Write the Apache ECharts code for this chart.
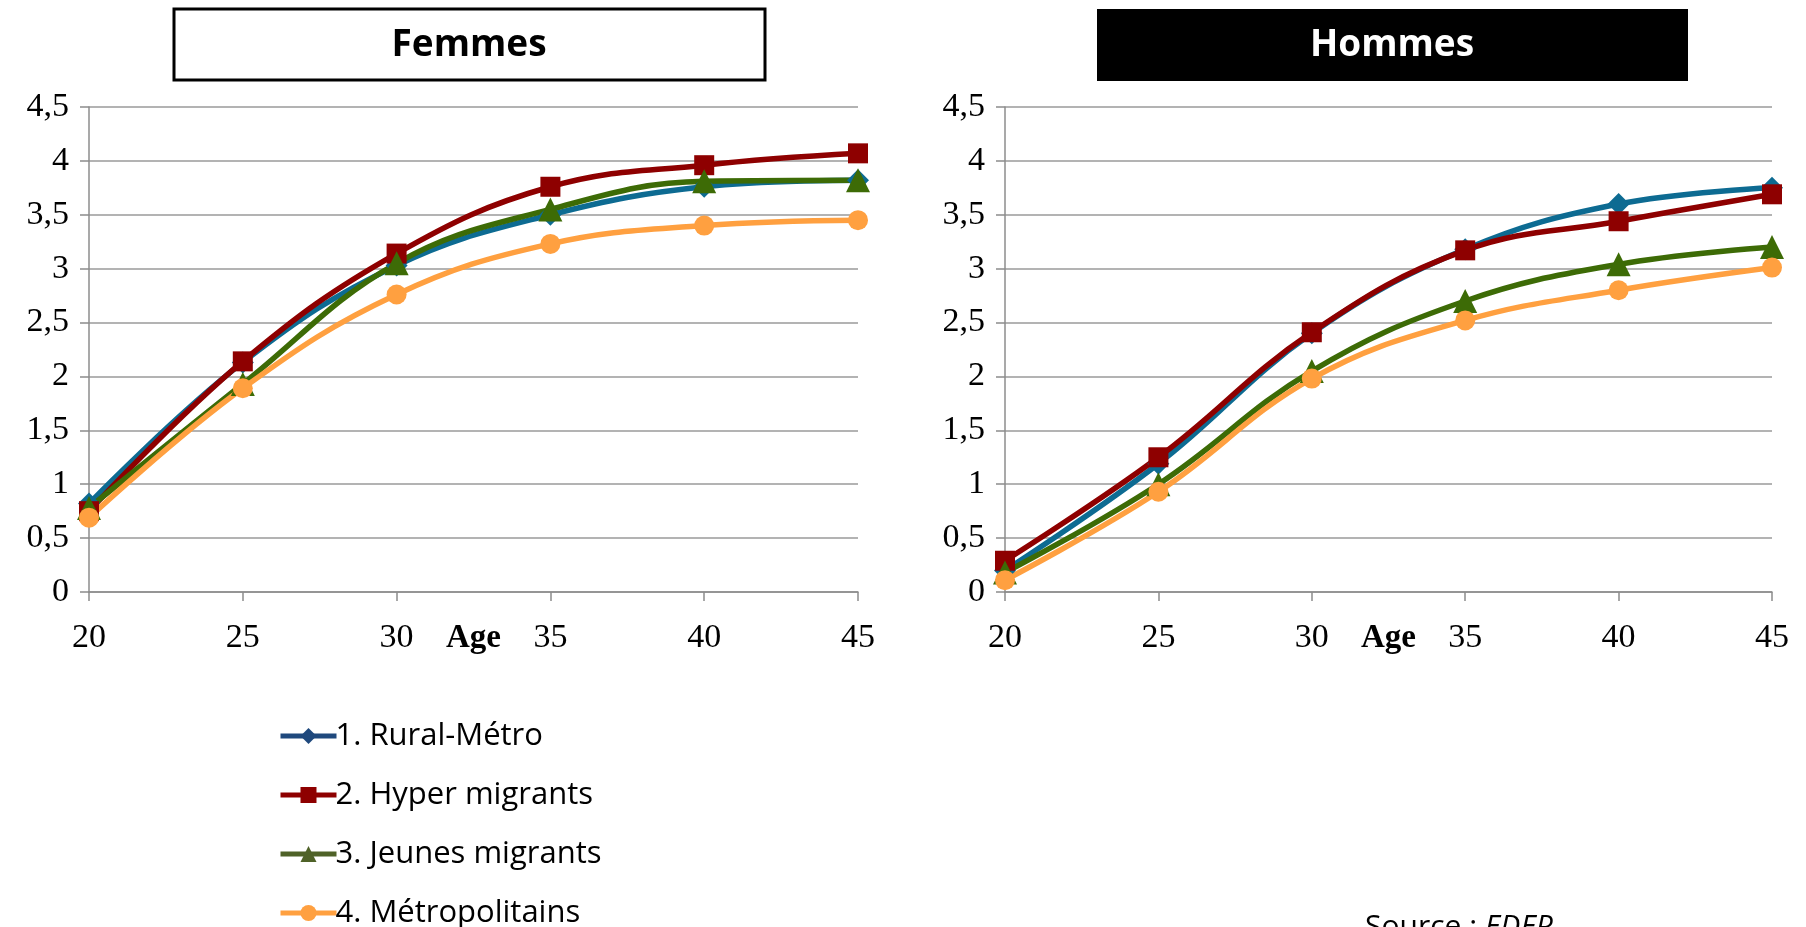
<!DOCTYPE html>
<html>
<head>
<meta charset="utf-8">
<script src="https://cdn.jsdelivr.net/npm/echarts@6/dist/echarts.min.js"></script>
<style>
html,body{margin:0;padding:0;background:#fff;}
#chart{width:1806px;height:927px;}
</style>
</head>
<body>
<div id="chart"></div>
<script>
const ages = [20, 25, 30, 35, 40, 45];
const seriesNames = ['1. Rural-Métro', '2. Hyper migrants', '3. Jeunes migrants', '4. Métropolitains'];
const yTicks = [0, 0.5, 1, 1.5, 2, 2.5, 3, 3.5, 4, 4.5];

const femmesRural  = [0.82, 2.13, 3.03, 3.50, 3.76, 3.82];
const femmesHyper  = [0.75, 2.14, 3.14, 3.76, 3.96, 4.07];
const femmesJeunes = [0.78, 1.93, 3.05, 3.55, 3.81, 3.82];
const femmesMetro  = [0.69, 1.89, 2.76, 3.23, 3.40, 3.45];

const hommesRural  = [0.20, 1.19, 2.40, 3.18, 3.60, 3.75];
const hommesHyper  = [0.29, 1.25, 2.41, 3.17, 3.44, 3.69];
const hommesJeunes = [0.18, 1.00, 2.05, 2.70, 3.04, 3.20];
const hommesMetro  = [0.11, 0.93, 1.98, 2.52, 2.80, 3.01];

const colors = ['#0d6b92', '#8e0000', '#3d6b06', '#ffa040'];
const legendColors = ['#1f497d', '#8e0000', '#4f6228', '#ffa040'];
const symbols = ['diamond', 'rect', 'triangle', 'circle'];
const symbolSizes = [22, 20, 24, 20];

const chart = echarts.init(document.getElementById('chart'));

function pairs(vals){ return ages.map((a,i)=>[a, vals[i]]); }

const femmes = [femmesRural, femmesHyper, femmesJeunes, femmesMetro];
const hommes = [hommesRural, hommesHyper, hommesJeunes, hommesMetro];

const serif = 'Liberation Serif';
const sans = 'Open Sans';

function xAxis(idx){
  return {
    type: 'value', gridIndex: idx, min: 20, max: 45, interval: 5,
    name: 'Age', nameLocation: 'middle', nameGap: 30, nameMoveOverlap: false,
    nameTextStyle: {fontFamily: serif, fontWeight: 'bold', fontSize: 33, color: '#000'},
    axisLine: {show: true, lineStyle: {color: '#8c8c8c', width: 1.5}},
    axisTick: {show: true, length: 9, lineStyle: {color: '#8c8c8c', width: 1.5}},
    axisLabel: {fontFamily: serif, fontSize: 34, color: '#000', margin: 29},
    splitLine: {show: false}
  };
}
function yAxis(idx){
  return {
    type: 'value', gridIndex: idx, min: 0, max: 4.5, interval: 0.5,
    axisLine: {show: true, lineStyle: {color: '#8c8c8c', width: 1.5}},
    axisTick: {show: true, length: 9, lineStyle: {color: '#8c8c8c', width: 1.5}},
    axisLabel: {fontFamily: serif, fontSize: 34, color: '#000', margin: 20,
      formatter: v => String(v).replace('.', ',')},
    splitLine: {show: true, lineStyle: {color: '#9a9a9a', width: 1.5}}
  };
}

const series = [];
[femmes, hommes].forEach((group, g) => {
  group.forEach((vals, i) => {
    series.push({
      name: seriesNames[i], type: 'line', xAxisIndex: g, yAxisIndex: g,
      data: pairs(vals), smooth: 0.4,
      symbol: symbols[i], symbolSize: symbolSizes[i],
      showSymbol: true,
      lineStyle: {color: colors[i], width: 5.5},
      itemStyle: {color: colors[i]},
      emphasis: {disabled: true},
      animation: false
    });
  });
});

chart.setOption({
  animation: false,
  grid: [
    {left: 89, right: 948, top: 107, bottom: 335},
    {left: 1005, right: 34, top: 107, bottom: 335}
  ],
  xAxis: [xAxis(0), xAxis(1)],
  yAxis: [yAxis(0), yAxis(1)],
  legend: {
    orient: 'vertical', left: 278, top: 714, height: 300, padding: 0, itemGap: 15,
    itemWidth: 56, itemHeight: 20,
    textStyle: {fontFamily: sans, fontSize: 31, color: '#000', padding: [0,0,0,-6], lineHeight: 44},
    data: seriesNames.map((n,i)=>({name: n, itemStyle: {color: legendColors[i]}, lineStyle: {color: legendColors[i], width: 5}}))
  },
  series: series,
  graphic: [
    {type: 'rect', shape: {x: 174, y: 9, width: 591, height: 71},
     style: {fill: '#fff', stroke: '#000', lineWidth: 3}},
    {type: 'text', x: 469, y: 45,
     style: {text: 'Femmes', fontFamily: sans, fontWeight: 'bold', fontSize: 37, fill: '#000', align: 'center', verticalAlign: 'middle'}},
    {type: 'rect', shape: {x: 1097, y: 9, width: 591, height: 72},
     style: {fill: '#000'}},
    {type: 'text', x: 1392, y: 45,
     style: {text: 'Hommes', fontFamily: sans, fontWeight: 'bold', fontSize: 37, fill: '#fff', align: 'center', verticalAlign: 'middle'}},
    {type: 'text', x: 1365, y: 912,
     style: {rich: {a: {fontFamily: sans, fontSize: 30, fill: '#000'}, b: {fontFamily: sans, fontSize: 30, fontStyle: 'italic', fill: '#000'}},
       text: '{a|Source : }{b|EDEP}', verticalAlign: 'top', align: 'left'}}
  ]
});
</script>
</body>
</html>
